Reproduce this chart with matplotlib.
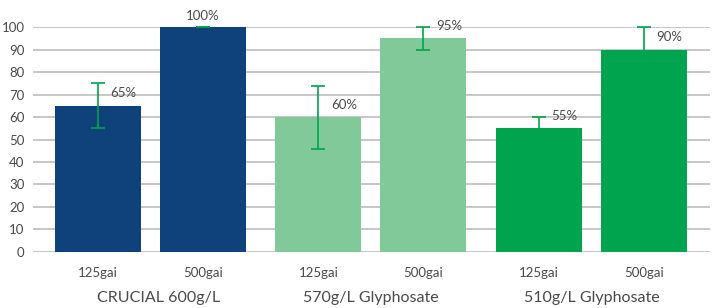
import matplotlib.pyplot as plt

plt.rcParams['font.family'] = ['Lato', 'DejaVu Sans']

groups = ['CRUCIAL 600g/L', '570g/L Glyphosate', '510g/L Glyphosate']
rates = ['125gai', '500gai', '125gai', '500gai', '125gai', '500gai']
values = [65, 100, 60, 95, 55, 90]
err_low = [10, 0, 14, 5, 5, 5]
err_high = [10, 0, 14, 5, 5, 10]
labels = ['65%', '100%', '60%', '95%', '55%', '90%']

positions = [0, 1, 2.1, 3.1, 4.2, 5.2]
group_pos = [0.58, 2.6, 4.7]
colors = ['#0f417a', '#0f417a', '#82c99a', '#82c99a', '#00a34e', '#00a34e']
err_color = '#00a34e'
text_color = '#4a4a4a'

fig = plt.figure(figsize=(7.15, 3.08), dpi=100)
ax = fig.add_axes([0.046, 0.182, 0.947, 0.730])

ax.bar(positions, values, width=0.82, color=colors, zorder=2)
ax.errorbar(positions, values, yerr=[err_low, err_high], fmt='none',
            ecolor=err_color, elinewidth=1.2, capsize=5, capthick=1.2,
            zorder=3, clip_on=False)

for x, v, lab in zip(positions, values, labels):
    if v == 100:
        ax.text(x, 105, lab, ha='center', va='center', fontsize=9.5,
                color=text_color, clip_on=False)
    else:
        ax.text(x + 0.12, v + 5.5, lab, ha='left', va='center', fontsize=9.5,
                color=text_color, clip_on=False)

ax.set_xlim(-0.62, 5.83)
ax.set_ylim(0, 100)
ax.set_yticks(range(0, 101, 10))
ax.tick_params(axis='y', length=0, labelsize=9.5, labelcolor=text_color, pad=6)
ax.set_xticks(positions)
ax.set_xticklabels(rates)
ax.tick_params(axis='x', length=0, labelsize=9.5, labelcolor=text_color, pad=11)

for gx, g in zip(group_pos, groups):
    ax.text(gx, -0.205, g, transform=ax.get_xaxis_transform(), ha='center',
            va='center', fontsize=11.5, color=text_color)

ax.yaxis.grid(True, color='#bdbdbd', linewidth=1.2, zorder=0)
ax.set_axisbelow(True)
for s in ax.spines.values():
    s.set_visible(False)

fig.savefig('out.png', dpi=100)
